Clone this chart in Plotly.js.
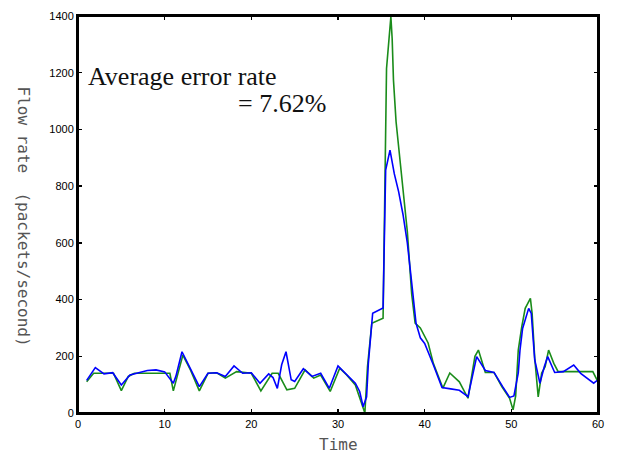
<!DOCTYPE html>
<html>
<head>
<meta charset="utf-8">
<script src="https://cdn.plot.ly/plotly-3.0.1.min.js"></script>
<style>html,body{margin:0;padding:0;background:#fff;}#chart{width:618px;height:455px;}</style>
</head>
<body>
<div id="chart"></div>
<script>
const blueTime = [1,2,3,4,5,6,7,8,9,10,11,11.3,12,13,14,15,16,17,18,19,20,21,22,22.5,23,23.5,24,24.6,25,26,27,28,29,30,31,32,32.5,32.9,33.3,33.5,34,35.2,35.5,36,36.5,37,37.5,38,38.5,39,39.5,40,41,42,43,44,45,46,47,48,49,49.8,50.3,50.8,51,51.3,52,52.3,52.7,53.3,53.8,54.2,55,56,57.2,58,59.5,60];
const blueRate = [115,160,138,142,99,134,142,150,152,145,105,130,216,152,93,140,142,129,166,140,142,105,138,125,87,170,216,117,111,156,129,140,87,166,134,105,76,22,57,174,352,370,857,927,843,780,700,600,460,317,265,245,170,90,85,80,58,199,150,143,93,55,60,141,222,298,369,351,187,105,163,199,143,146,169,140,105,117];

const greenTime = [1,1.8,4.1,5,5.8,6.5,10.6,11,12.1,13,14,15,16,17,18.3,20,21.1,22.4,23.1,24.1,25,26.2,27.2,28,29.1,30.2,31,32,33.1,33.4,33.9,35.2,35.6,36.1,36.25,36.4,36.7,37.2,37.5,38,38.5,38.9,39.5,40.4,41,42.1,42.9,44,45,45.4,45.8,46.2,47,48,48.9,49.8,50.2,50.5,50.8,51.2,51.6,52.2,52.4,52.7,53.1,53.5,53.9,54.3,54.9,55.4,59.4,60];
const greenRate = [110,140,140,79,129,140,140,78,204,150,78,140,142,123,146,140,78,140,140,82,87,152,123,134,76,158,134,99,0,163,316,334,1215,1397,1320,1174,1027,881,775,640,420,317,300,247,175,88,141,110,52,130,200,222,143,143,93,52,11,60,222,304,369,404,351,194,57,141,163,222,175,146,146,110];

const xTicks = [0,10,20,30,40,50,60];
const yTicks = [0,200,400,600,800,1000,1200,1400];

const traces = [
  {x: greenTime, y: greenRate, type: 'scatter', mode: 'lines', line: {color: '#1a8c1a', width: 1.6}, hoverinfo: 'skip'},
  {x: blueTime, y: blueRate, type: 'scatter', mode: 'lines', line: {color: '#0000ff', width: 1.6}, hoverinfo: 'skip'}
];

const axisCommon = {
  showgrid: false, zeroline: false, showline: true, mirror: 'ticks',
  linecolor: '#000', linewidth: 2, ticks: 'inside', ticklen: 4, tickcolor: '#000', tickwidth: 1.5,
  tickfont: {family: 'Liberation Sans, Arial, sans-serif', size: 11, color: '#000'}
};

const layout = {
  width: 618, height: 455,
  margin: {l: 78, r: 20, t: 16, b: 42},
  paper_bgcolor: '#fff', plot_bgcolor: '#fff',
  showlegend: false,
  xaxis: Object.assign({}, axisCommon, {range: [0, 60], tickvals: xTicks, ticktext: xTicks.map(String)}),
  yaxis: Object.assign({}, axisCommon, {range: [0, 1400], tickvals: yTicks, ticktext: yTicks.map(String)}),
  shapes: [
    {type: 'rect', xref: 'paper', yref: 'paper', x0: 0, x1: 1, y0: 0, y1: 1, line: {color: '#000', width: 2}, layer: 'above'}
  ],
  annotations: [
    {text: 'Time', xref: 'paper', yref: 'paper', x: 0.5, y: 0, yshift: -31, showarrow: false,
     font: {family: 'DejaVu Sans Mono, monospace', size: 16, color: '#555'}, xanchor: 'center', yanchor: 'middle'},
    {text: 'Flow rate  (packets/second)', xref: 'paper', yref: 'paper', x: 0, xshift: -55, y: 0.5, yshift: -2,
     showarrow: false, textangle: 90,
     font: {family: 'DejaVu Sans Mono, monospace', size: 16, color: '#555'}, xanchor: 'center', yanchor: 'middle'},
    {text: 'Average error rate', xref: 'x', yref: 'y', x: 0.9, y: 1185, showarrow: false,
     font: {family: 'Liberation Serif, Times New Roman, serif', size: 26, color: '#111'}, xanchor: 'left', yanchor: 'middle'},
    {text: '= 7.62%', xref: 'x', yref: 'y', x: 28.8, y: 1090, showarrow: false,
     font: {family: 'Liberation Serif, Times New Roman, serif', size: 26, color: '#111'}, xanchor: 'right', yanchor: 'middle'}
  ]
};

Plotly.newPlot('chart', traces, layout, {displayModeBar: false, staticPlot: true});
</script>
</body>
</html>
